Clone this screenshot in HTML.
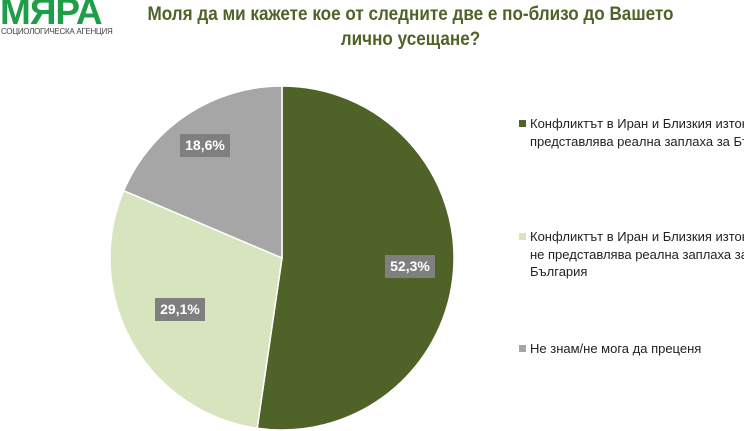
<!DOCTYPE html>
<html><head><meta charset="utf-8"><style>
body{margin:0;width:744px;height:431px;background:#fff;overflow:hidden;position:relative;font-family:"Liberation Sans","DejaVu Sans",sans-serif}
#wrap{position:absolute;left:0;top:0;width:744px;height:431px;overflow:hidden}
.logo{position:absolute;left:0;top:-9px;font-size:37px;font-weight:bold;color:#1e9e48;letter-spacing:-1px}
.sub{position:absolute;left:1px;top:27px;font-size:8px;color:#444;letter-spacing:-0.3px;white-space:nowrap}
.title{position:absolute;left:118px;width:650px;top:2px;text-align:center;font-size:19px;font-weight:bold;color:#4f6228;line-height:25px;transform:scaleX(0.9);transform-origin:left}
.lab{position:absolute;background:#7f7f7f;color:#fff;font-weight:bold;font-size:14px;height:23px;line-height:23px;text-align:center;width:50px}
.leg{position:absolute;left:530px;font-size:13px;color:#222;line-height:17.5px;white-space:nowrap}
.sq{position:absolute;left:-11px;top:5px;width:7px;height:7px}
</style></head><body><div id="wrap">
<div class="logo">МЯРА</div>
<div class="sub">СОЦИОЛОГИЧЕСКА АГЕНЦИЯ</div>
<div class="title">Моля да ми кажете кое от следните две е по-близо до Вашето<br>лично усещане?</div>
<svg width="744" height="431" style="position:absolute;left:0;top:0">
<path d="M282,258 L282,86 A172,172 0 1,1 257.2,428.2 Z" fill="#4f6228" stroke="#fff" stroke-width="1.5"/>
<path d="M282,258 L257.2,428.2 A172,172 0 0,1 123.7,190.7 Z" fill="#d7e4bd" stroke="#fff" stroke-width="1.5"/>
<path d="M282,258 L123.7,190.7 A172,172 0 0,1 282,86 Z" fill="#a6a6a6" stroke="#fff" stroke-width="1.5"/>
</svg>
<div class="lab" style="left:180px;top:134px">18,6%</div>
<div class="lab" style="left:385px;top:255px">52,3%</div>
<div class="lab" style="left:155px;top:298px">29,1%</div>
<div class="leg" style="top:115px"><div class="sq" style="background:#4f6228"></div>Конфликтът в Иран и Близкия изток<br>представлява реална заплаха за България</div>
<div class="leg" style="top:228px"><div class="sq" style="background:#d7e4bd"></div>Конфликтът в Иран и Близкия изток<br>не представлява реална заплаха за<br>България</div>
<div class="leg" style="top:340px"><div class="sq" style="background:#a6a6a6"></div>Не знам/не мога да преценя</div>
</div></body></html>
